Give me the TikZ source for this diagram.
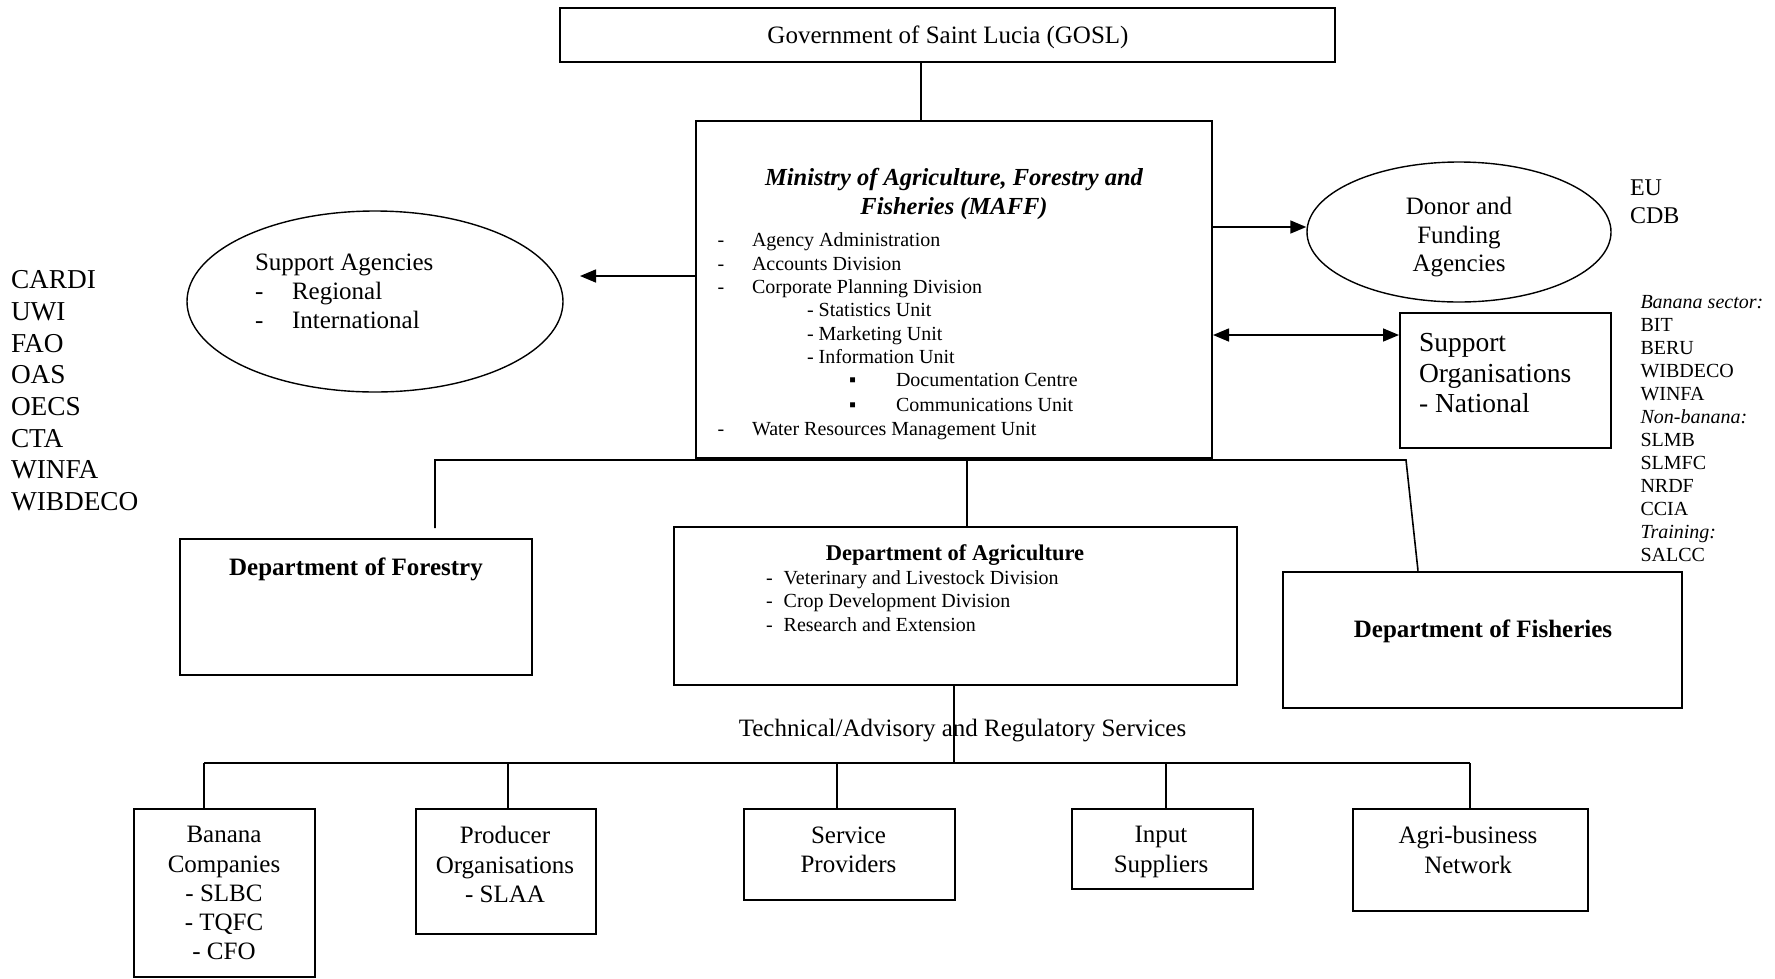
\documentclass[tikz,border=0pt]{standalone}
\usepackage{fontspec}
\setmainfont{Liberation Serif}
\usetikzlibrary{arrows.meta,shapes.geometric}
\newcommand{\fsz}[2]{\fontsize{#1}{#2}\selectfont}
\begin{document}
\begin{tikzpicture}[x=1pt,y=-1pt,
  box/.style={draw, line width=2pt, rectangle, inner sep=0pt},
  ell/.style={draw, line width=1.4pt, ellipse, inner sep=0pt},
  conn/.style={line width=1.6pt},
  arr/.style={conn, -{Triangle[length=16pt,width=13pt]}},
  darr/.style={conn, {Triangle[length=16pt,width=13pt]}-{Triangle[length=16pt,width=13pt]}},
  txt/.style={inner sep=0pt, outer sep=0pt},
  item/.style={txt, anchor=base west, font=\fsz{20}{23}},
  big/.style={txt, font=\fsz{25}{29.2}}]
\useasboundingbox (0,0) rectangle (1775,978);
\fill[white] (0,0) rectangle (1775,978);

% ---- boxes ----
\node[box, minimum width=775pt, minimum height=54pt] (gosl) at (947.5,35) {};
\node[box, minimum width=516pt, minimum height=337pt] (maff) at (954,289.5) {};
\node[box, minimum width=211pt, minimum height=135pt] (supp) at (1505.5,380.5) {};
\node[box, minimum width=352.5pt, minimum height=136pt] (forest) at (355.75,607) {};
\node[box, minimum width=563.5pt, minimum height=158pt] (agri) at (955.25,606) {};
\node[box, minimum width=399.4pt, minimum height=135.8pt] (fish) at (1482.3,639.6) {};
\node[box, minimum width=181.5pt, minimum height=168pt] (b1) at (224.25,893) {};
\node[box, minimum width=180pt, minimum height=125pt] (b2) at (505.5,871.5) {};
\node[box, minimum width=211pt, minimum height=91pt] (b3) at (849,854.5) {};
\node[box, minimum width=181.5pt, minimum height=80pt] (b4) at (1162.25,849) {};
\node[box, minimum width=235pt, minimum height=102pt] (b5) at (1470.5,860) {};
\node[ell, minimum width=376pt, minimum height=181pt] (sa) at (375,301.5) {};
\node[ell, minimum width=304pt, minimum height=140pt] (donor) at (1459,232) {};

% ---- texts ----
\begin{scope}[yshift=-2pt]
\node[big, anchor=base] (goslt) at (948,41) {Government of Saint Lucia (GOSL)};
\node[txt, anchor=north, align=center, font=\fsz{24.5}{29.3}\bfseries\itshape] (mafft) at (954,166.4)
  {Ministry of Agriculture, Forestry and\\Fisheries (MAFF)};
\node[item] (m1d) at (717.5,244.4) {-};
\node[item] (m1) at (752,244.4) {Agency Administration};
\node[item] (m2d) at (717.5,268) {-};
\node[item] (m2) at (752,268) {Accounts Division};
\node[item] (m3d) at (717.5,291.4) {-};
\node[item] (m3) at (752,291.4) {Corporate Planning Division};
\node[item] (m4) at (807,314.4) {- Statistics Unit};
\node[item] (m5) at (807,338) {- Marketing Unit};
\node[item] (m6) at (807,361.4) {- Information Unit};
\node[item] (m7b) at (849,384) {▪};
\node[item] (m7) at (896,384) {Documentation Centre};
\node[item] (m8b) at (849,409.4) {▪};
\node[item] (m8) at (896,409.4) {Communications Unit};
\node[item] (m9d) at (717.5,433.7) {-};
\node[item] (m9) at (752,433.7) {Water Resources Management Unit};

\node[big, anchor=base west] (sat) at (255,268.7) {Support Agencies};
\node[big, anchor=base west] (sa1d) at (255,297) {-};
\node[big, anchor=base west] (sa1) at (292,297) {Regional};
\node[big, anchor=base west] (sa2d) at (255,326) {-};
\node[big, anchor=base west] (sa2) at (292,326) {International};

\node[txt, anchor=north west, align=left, font=\fsz{27.3}{31.7}] (leftlist) at (11,268.6)
  {CARDI\\UWI\\FAO\\OAS\\OECS\\CTA\\WINFA\\WIBDECO};

\node[txt, anchor=north, align=center, font=\fsz{25}{28.5}] (donort) at (1459,195.5)
  {Donor and\\Funding\\Agencies};
\node[txt, anchor=north west, align=left, font=\fsz{24}{28}] (eu) at (1630,177.9) {EU\\CDB};
\node[txt, anchor=north west, align=left, font=\fsz{27.5}{30.5}] (suppt) at (1419,331.5)
  {Support\\Organisations\\- National};
\node[txt, anchor=north west, align=left, font=\fsz{20}{23.03}] (rightlist) at (1640.5,293.1)
  {\textit{Banana sector:}\\BIT\\BERU\\WIBDECO\\WINFA\\\textit{Non-banana:}\\SLMB\\SLMFC\\NRDF\\CCIA\\\textit{Training:}\\SALCC};

\node[txt, anchor=base, font=\fsz{25}{29}\bfseries] (forestt) at (356,573) {Department of Forestry};
\node[txt, anchor=base, font=\fsz{22.5}{26}\bfseries] (agrit) at (955,558) {Department of Agriculture};
\node[item] (a1d) at (766,582.4) {-};
\node[item] (a1) at (783.7,582.4) {Veterinary and Livestock Division};
\node[item] (a2d) at (766,605.4) {-};
\node[item] (a2) at (783.7,605.4) {Crop Development Division};
\node[item] (a3d) at (766,629.1) {-};
\node[item] (a3) at (783.7,629.1) {Research and Extension};
\node[txt, anchor=base, font=\fsz{25}{29}\bfseries] (fisht) at (1483,635) {Department of Fisheries};

\node[big, anchor=base] (tech) at (962.5,734.7) {Technical/Advisory and Regulatory Services};

\node[big, anchor=north, align=center] (b1t) at (224,824.5) {Banana\\Companies\\- SLBC\\- TQFC\\- CFO};
\node[big, anchor=north, align=center] (b2t) at (505,824.5) {Producer\\Organisations\\- SLAA};
\node[big, anchor=north, align=center] (b3t) at (848.5,824.5) {Service\\Providers};
\node[big, anchor=north, align=center] (b4t) at (1161,824.5) {Input\\Suppliers};
\node[big, anchor=north, align=center] (b5t) at (1468,824.5) {Agri-business\\Network};
\end{scope}

% ---- connectors ----
\draw[conn] (gosl.south -| 921,0) -- (maff.north -| 921,0);
\coordinate (saTip) at (580,276);
\draw[arr] (maff.west |- saTip) -- (saTip);
\draw[arr] (maff.east |- 0,227) -- (donor.west |- 0,227);
\draw[darr] (maff.east |- 0,335) -- (supp.west |- 0,335);

\coordinate (fEnd) at (435,528);
\coordinate (barL) at (435,460);
\coordinate (barR) at (1406,460);
\draw[conn] (fEnd) -- (barL) -- (barR) -- (fish.north -| 1418,0);
\draw[conn] (967,460) -- (agri.north -| 967,0);

\coordinate (hub) at (954,763);
\draw[conn] (agri.south -| hub) -- (hub);
\draw[conn] (204,763) -- (1470,763);
\draw[conn] (204,763) -- (b1.north -| 204,0);
\draw[conn] (508,763) -- (b2.north -| 508,0);
\draw[conn] (837,763) -- (b3.north -| 837,0);
\draw[conn] (1166,763) -- (b4.north -| 1166,0);
\draw[conn] (1470,763) -- (b5.north -| 1470,0);
\end{tikzpicture}
\end{document}
